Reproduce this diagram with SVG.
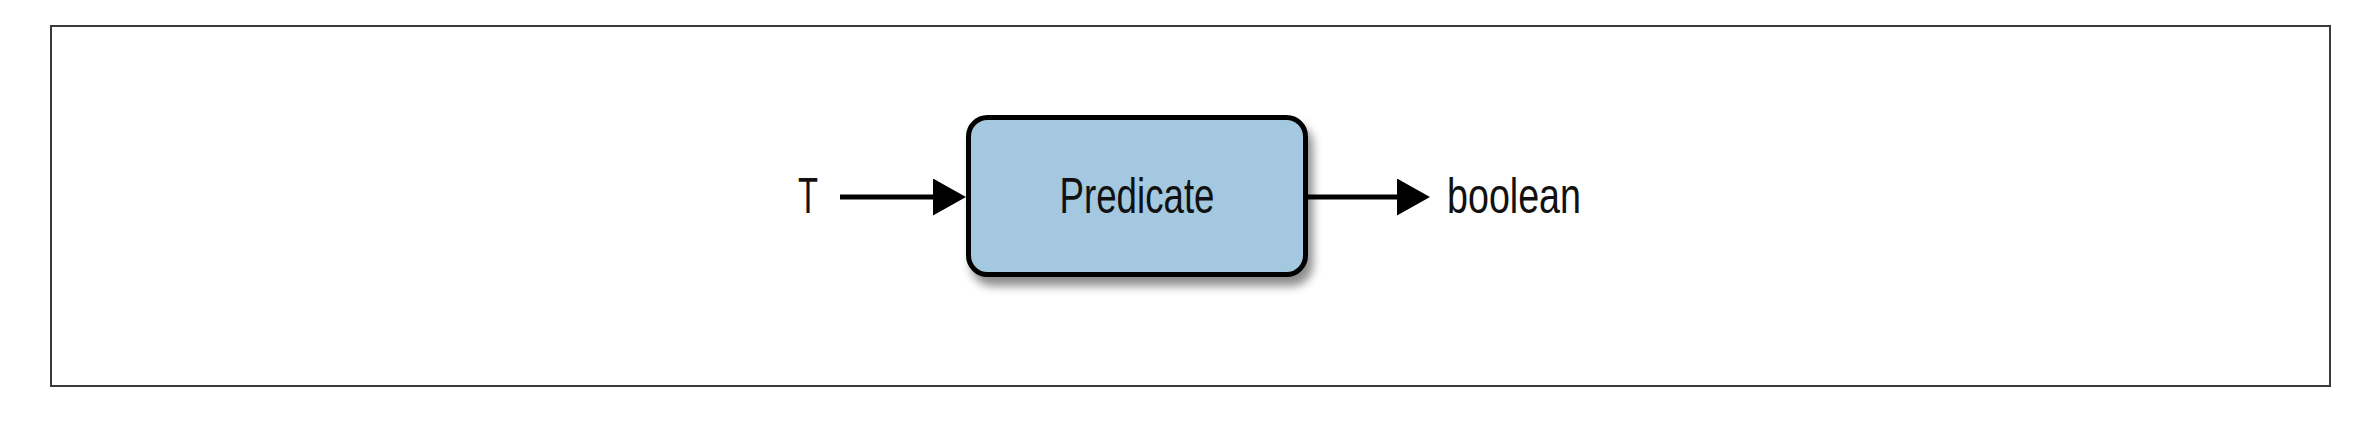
<svg xmlns="http://www.w3.org/2000/svg" width="2378" height="423" viewBox="0 0 2378 423">
  <style>
    .lbl { font-family: "Liberation Sans", Arial, sans-serif; font-size: 50px; fill: #111; }
    .edge { stroke: #000; stroke-width: 5; fill: none; }
  </style>
  <defs>
    <marker id="arrow" markerUnits="userSpaceOnUse" markerWidth="34" markerHeight="38" refX="0" refY="18.5" orient="auto">
      <path d="M0,0 L33,18.5 L0,37 Z" fill="#000"/>
    </marker>
    <filter id="shadow" x="-10%" y="-20%" width="130%" height="150%">
      <feDropShadow dx="5" dy="9" stdDeviation="5" flood-color="#000" flood-opacity="0.45"/>
    </filter>
  </defs>
  <rect id="frame" x="51" y="26" width="2279" height="360" fill="#fff" stroke="#3a3a3a" stroke-width="2"/>
  <g id="connectors">
    <line class="edge" x1="840" y1="197" x2="933" y2="197" marker-end="url(#arrow)"/>
    <line class="edge" x1="1308" y1="197" x2="1397" y2="197" marker-end="url(#arrow)"/>
  </g>
  <g id="node-predicate">
    <rect x="968.5" y="117.5" width="337" height="157" rx="19" ry="19" fill="#a3c8df" stroke="#000" stroke-width="5" filter="url(#shadow)"/>
    <text class="lbl" x="1137" y="213" text-anchor="middle" textLength="155" lengthAdjust="spacingAndGlyphs">Predicate</text>
  </g>
  <g id="node-T">
    <text class="lbl" x="798" y="213" textLength="20" lengthAdjust="spacingAndGlyphs">T</text>
  </g>
  <g id="node-boolean">
    <text class="lbl" x="1447" y="213" textLength="134" lengthAdjust="spacingAndGlyphs">boolean</text>
  </g>
</svg>
